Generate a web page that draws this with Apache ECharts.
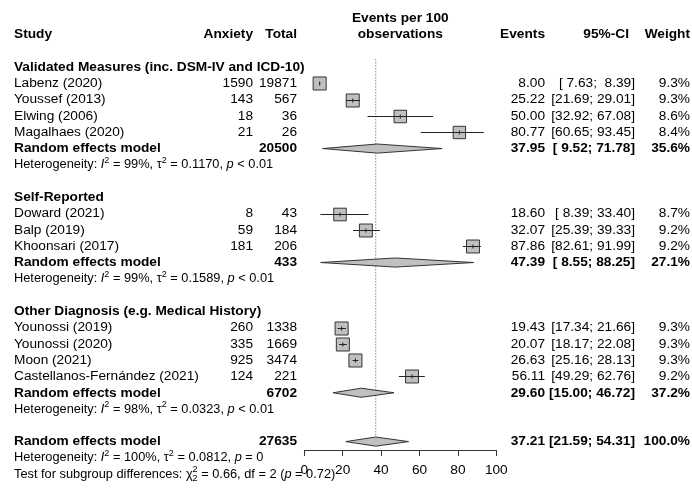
<!DOCTYPE html>
<html><head><meta charset="utf-8">
<script src="https://cdn.jsdelivr.net/npm/echarts@6/dist/echarts.min.js"></script>
<style>html,body{margin:0;padding:0;background:#fff}#c{width:692px;height:488px}</style>
</head><body><div id="c"></div>
<script>
// ---------------- data ----------------
const groupNames = ['Validated Measures (inc. DSM-IV and ICD-10)', 'Self-Reported', 'Other Diagnosis (e.g. Medical History)'];
const studyNames = ['Labenz (2020)', 'Youssef (2013)', 'Elwing (2006)', 'Magalhaes (2020)',
  'Doward (2021)', 'Balp (2019)', 'Khoonsari (2017)',
  'Younossi (2019)', 'Younossi (2020)', 'Moon (2021)', 'Castellanos-Fernández (2021)'];
const studyGroup = [0, 0, 0, 0, 1, 1, 1, 2, 2, 2, 2];
const anxiety = [1590, 143, 18, 21, 8, 59, 181, 260, 335, 925, 124];
const totals = [19871, 567, 36, 26, 43, 184, 206, 1338, 1669, 3474, 221];
const events = [8.00, 25.22, 50.00, 80.77, 18.60, 32.07, 87.86, 19.43, 20.07, 26.63, 56.11];
const ciLower = [7.63, 21.69, 32.92, 60.65, 8.39, 25.39, 82.61, 17.34, 18.17, 25.16, 49.29];
const ciUpper = [8.39, 29.01, 67.08, 93.45, 33.40, 39.33, 91.99, 21.66, 22.08, 28.13, 62.76];
const weights = [9.3, 9.3, 8.6, 8.4, 8.7, 9.2, 9.2, 9.3, 9.3, 9.3, 9.2];
const groupTotals = [20500, 433, 6702];
const groupEvents = [37.95, 47.39, 29.60];
const groupLower = [9.52, 8.55, 15.00];
const groupUpper = [71.78, 88.25, 46.72];
const groupWeights = [35.6, 27.1, 37.2];
const groupI2 = ['99%', '99%', '98%'];
const groupTau2 = ['0.1170', '0.1589', '0.0323'];
const groupP = ['< 0.01', '< 0.01', '< 0.01'];
const overallTotal = 27635;
const overallEvents = 37.21;
const overallLower = 21.59;
const overallUpper = 54.31;
const overallWeight = 100.0;
const overallI2 = '100%';
const overallTau2 = '0.0812';
const overallP = '= 0';
const subgroupChi2 = '0.66';
const subgroupDf = 2;
const subgroupP = '0.72';
const xTickLabels = [0, 20, 40, 60, 80, 100];
const headers = { study: 'Study', anx: 'Anxiety', tot: 'Total', ev: 'Events', ci: '95%-CI', w: 'Weight' };
const axisTitle = ['Events per 100', 'observations'];

// ---------------- layout ----------------
const FF = '"Liberation Sans", Arial, Helvetica, sans-serif';
const FS = 13.7, HS = 12.8;
const colX = { study: 14, anx: 253, tot: 297, ev: 545, ci: 635, ciH: 629, w: 690 };
const colAlign = { study: 'left', anx: 'right', tot: 'right', ev: 'right', ci: 'right', ciH: 'right', w: 'right', center: 'center' };

function fmtCI(lo, hi) {
  return '[' + lo.toFixed(2).padStart(5, ' ') + '; ' + hi.toFixed(2).padStart(5, ' ') + ']';
}
function hetText(i2, tau2, p) {
  return '{n|Heterogeneity: }{it|I}{sup|2}{n| = ' + i2 + ', \u03c4}{sup|2}{n| = ' + tau2 + ', }{it|p}{n| ' + p + '}';
}

const texts = [], boxes = [], diamonds = [];
texts.push({ col: 'center', k: -1, text: axisTitle[0], bold: true });
texts.push({ col: 'center', k: 0, text: axisTitle[1], bold: true });
texts.push({ col: 'study', k: 0, text: headers.study, bold: true });
texts.push({ col: 'anx', k: 0, text: headers.anx, bold: true });
texts.push({ col: 'tot', k: 0, text: headers.tot, bold: true });
texts.push({ col: 'ev', k: 0, text: headers.ev, bold: true });
texts.push({ col: 'ciH', k: 0, text: headers.ci, bold: true });
texts.push({ col: 'w', k: 0, text: headers.w, bold: true });

let k = 2;
groupNames.forEach((g, gi) => {
  texts.push({ col: 'study', k, text: g, bold: true });
  k++;
  studyNames.forEach((s, i) => {
    if (studyGroup[i] !== gi) return;
    texts.push({ col: 'study', k, text: s });
    texts.push({ col: 'anx', k, text: String(anxiety[i]) });
    texts.push({ col: 'tot', k, text: String(totals[i]) });
    texts.push({ col: 'ev', k, text: events[i].toFixed(2) });
    texts.push({ col: 'ci', k, text: fmtCI(ciLower[i], ciUpper[i]) });
    texts.push({ col: 'w', k, text: weights[i].toFixed(1) + '%' });
    boxes.push([events[i], k, ciLower[i], ciUpper[i], weights[i]]);
    k++;
  });
  texts.push({ col: 'study', k, text: 'Random effects model', bold: true });
  texts.push({ col: 'tot', k, text: String(groupTotals[gi]), bold: true });
  texts.push({ col: 'ev', k, text: groupEvents[gi].toFixed(2), bold: true });
  texts.push({ col: 'ci', k, text: fmtCI(groupLower[gi], groupUpper[gi]), bold: true });
  texts.push({ col: 'w', k, text: groupWeights[gi].toFixed(1) + '%', bold: true });
  diamonds.push([groupEvents[gi], k, groupLower[gi], groupUpper[gi]]);
  k++;
  texts.push({ col: 'study', k, text: hetText(groupI2[gi], groupTau2[gi], groupP[gi]), rich: true });
  k += 2;
});
const overallRow = k;
texts.push({ col: 'study', k, text: 'Random effects model', bold: true });
texts.push({ col: 'tot', k, text: String(overallTotal), bold: true });
texts.push({ col: 'ev', k, text: overallEvents.toFixed(2), bold: true });
texts.push({ col: 'ci', k, text: fmtCI(overallLower, overallUpper), bold: true });
texts.push({ col: 'w', k, text: overallWeight.toFixed(1) + '%', bold: true });
diamonds.push([overallEvents, k, overallLower, overallUpper]);
k++;
texts.push({ col: 'study', k, text: hetText(overallI2, overallTau2, overallP), rich: true });
k++;
texts.push({ col: 'study', k, text: '{n|Test for subgroup differences: \u03c7}{sup0|2}{sub|2}{n| = ' + subgroupChi2 + ', df = ' + subgroupDf + ' (}{it|p}{n| = ' + subgroupP + ')}', rich: true });

const maxW = Math.max(...weights);
const richStyles = {
  n: { fontSize: HS, fontFamily: FF, fill: '#000', lineHeight: 18 },
  it: { fontSize: HS, fontFamily: FF, fontStyle: 'italic', fill: '#000', lineHeight: 18 },
  sup: { fontSize: 9, fontFamily: FF, fill: '#000', lineHeight: 9, verticalAlign: 'top' },
  sup0: { fontSize: 9, fontFamily: FF, fill: '#000', lineHeight: 9, verticalAlign: 'top', width: 0 },
  sub: { fontSize: 9, fontFamily: FF, fill: '#000', lineHeight: 9, verticalAlign: 'bottom' }
};

const chart = echarts.init(document.getElementById('c'), null, { renderer: 'canvas' });
chart.setOption({
  animation: false,
  backgroundColor: '#fff',
  grid: { left: 304.3, right: 195.7, top: 34.6, bottom: 38, containLabel: false },
  xAxis: {
    type: 'value', position: 'bottom', min: xTickLabels[0], max: xTickLabels[xTickLabels.length - 1], interval: 20,
    splitLine: { show: false },
    axisLine: { show: true, onZero: false, lineStyle: { color: '#333', width: 1 } },
    axisTick: { show: true, inside: false, length: 6, lineStyle: { color: '#333' } },
    axisLabel: { color: '#000', fontSize: FS, fontFamily: FF, margin: 13 }
  },
  yAxis: { type: 'value', inverse: true, min: 0, max: 25.516, show: false, splitLine: { show: false } },
  series: [
    {
      type: 'line', z: 1, symbol: 'none', silent: true,
      data: [[overallEvents, 1.5], [overallEvents, overallRow]],
      lineStyle: { color: '#888', width: 1, type: [1.5, 1.5] }
    },
    {
      type: 'custom', z: 3, clip: false, silent: true,
      encode: { x: 0, y: 1 },
      data: boxes,
      renderItem(params, api) {
        const est = api.value(0), row = api.value(1), lo = api.value(2), hi = api.value(3), w = api.value(4);
        const c = api.coord([est, row]);
        const pl = api.coord([lo, row]);
        const ph = api.coord([hi, row]);
        const rowH = api.size([0, 1])[1];
        const side = rowH * 0.8 * Math.sqrt(w / maxW);
        const yy = Math.round(c[1]) + 0.5;
        return {
          type: 'group', children: [
            { type: 'rect', shape: { x: c[0] - side / 2, y: yy - side / 2, width: side, height: side }, style: { fill: '#c0c0c0', stroke: '#333', lineWidth: 1 } },
            { type: 'line', shape: { x1: pl[0], y1: yy, x2: ph[0], y2: yy }, style: { stroke: '#222', lineWidth: 1 } },
            { type: 'line', shape: { x1: c[0], y1: yy - 2, x2: c[0], y2: yy + 2 }, style: { stroke: '#222', lineWidth: 1 } }
          ]
        };
      }
    },
    {
      type: 'custom', z: 3, clip: false, silent: true,
      encode: { x: 0, y: 1 },
      data: diamonds,
      renderItem(params, api) {
        const est = api.value(0), row = api.value(1), lo = api.value(2), hi = api.value(3);
        const c = api.coord([est, row]);
        const pl = api.coord([lo, row]);
        const ph = api.coord([hi, row]);
        const h = api.size([0, 1])[1] * 0.28;
        return {
          type: 'polygon',
          shape: { points: [[pl[0], c[1]], [c[0], c[1] - h], [ph[0], c[1]], [c[0], c[1] + h]] },
          style: { fill: '#c0c0c0', stroke: '#333', lineWidth: 1 }
        };
      }
    },
    {
      type: 'custom', z: 4, clip: false, silent: true,
      encode: { x: 0, y: 1 },
      data: texts.map(t => [t.col === 'center' ? 50 : 0, t.k]),
      renderItem(params, api) {
        const t = texts[params.dataIndex];
        const p = api.coord([api.value(0), api.value(1)]);
        const x = t.col === 'center' ? p[0] : colX[t.col];
        const style = {
          text: t.text, fill: '#000', fontFamily: FF,
          fontSize: t.rich ? HS : FS, fontWeight: t.bold ? 'bold' : 'normal',
          align: colAlign[t.col], verticalAlign: 'middle'
        };
        if (t.rich) style.rich = richStyles;
        return { type: 'text', x: x, y: p[1], style };
      }
    }
  ]
});
</script></body></html>
